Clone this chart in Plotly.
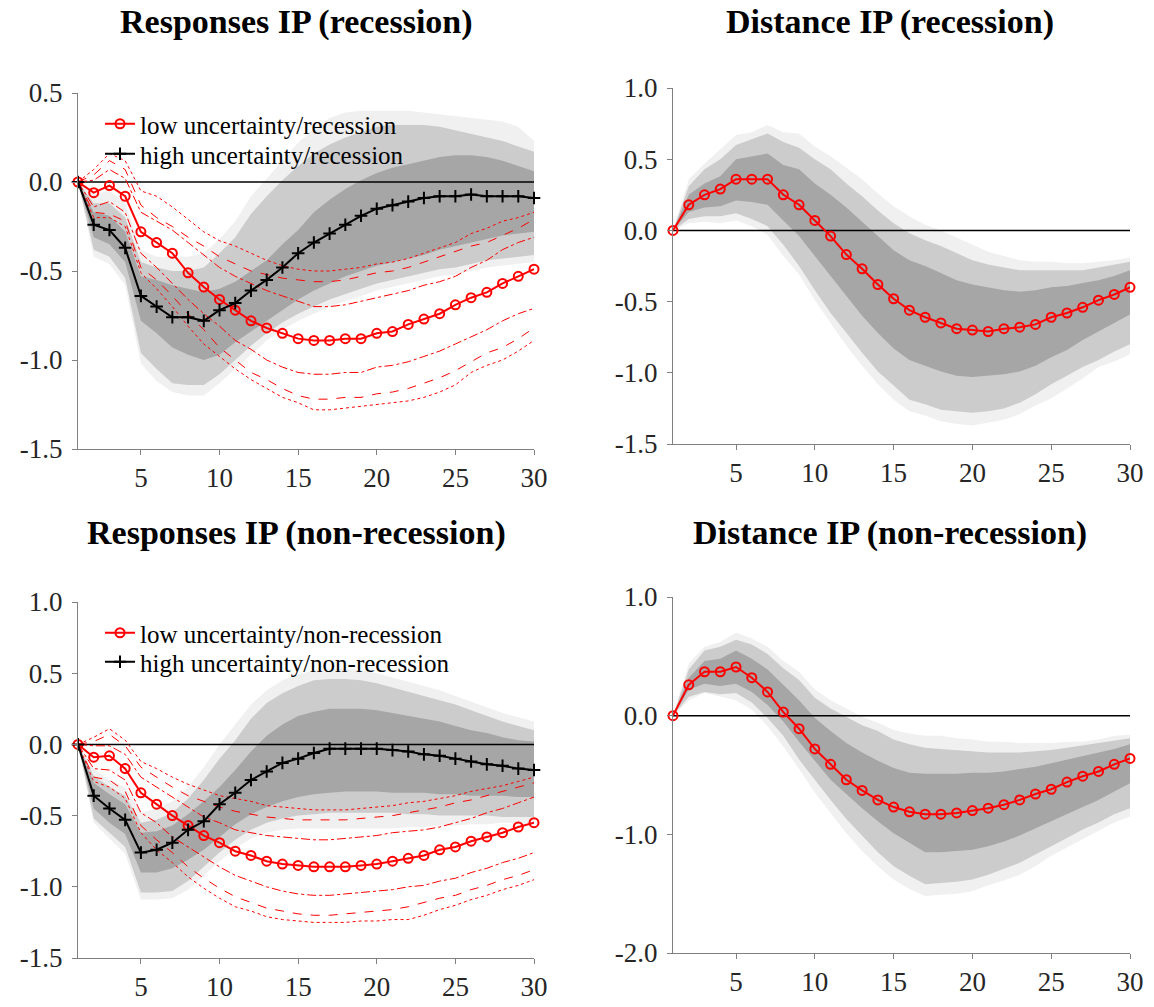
import plotly.graph_objects as go

# horizons
h = list(range(1, 31))

# ---------- Responses IP (recession) ----------
rec_low = [0, -0.06, -0.02, -0.08, -0.28, -0.34, -0.40, -0.51, -0.59, -0.66, -0.72, -0.78, -0.82, -0.85, -0.88,
           -0.89, -0.89, -0.88, -0.88, -0.85, -0.84, -0.80, -0.77, -0.74, -0.69, -0.65, -0.62, -0.57, -0.53, -0.49]
rec_high = [0, -0.24, -0.27, -0.37, -0.64, -0.70, -0.76, -0.76, -0.78, -0.72, -0.68, -0.61, -0.55, -0.48, -0.40,
            -0.34, -0.29, -0.24, -0.19, -0.15, -0.13, -0.11, -0.09, -0.08, -0.08, -0.07, -0.08, -0.08, -0.08, -0.09]
# red bands for low uncertainty (dotted = outer, dashed = middle, dash-dot = inner)
rec_low_dot_up = [0, 0.07, 0.16, 0.12, -0.05, -0.08, -0.14, -0.21, -0.28, -0.33, -0.36, -0.40, -0.44, -0.47, -0.49,
                  -0.50, -0.50, -0.49, -0.48, -0.46, -0.45, -0.43, -0.40, -0.37, -0.34, -0.29, -0.26, -0.22, -0.20, -0.17]
rec_low_dash_up = [0, 0.04, 0.12, 0.07, -0.13, -0.20, -0.25, -0.31, -0.36, -0.42, -0.46, -0.50, -0.52, -0.54, -0.55,
                   -0.56, -0.56, -0.55, -0.53, -0.51, -0.50, -0.48, -0.45, -0.42, -0.39, -0.36, -0.34, -0.30, -0.26, -0.21]
rec_low_dd_up = [0, 0.01, 0.07, 0.02, -0.17, -0.22, -0.27, -0.34, -0.41, -0.48, -0.53, -0.57, -0.61, -0.64, -0.67,
                 -0.70, -0.70, -0.69, -0.67, -0.65, -0.63, -0.61, -0.58, -0.56, -0.53, -0.48, -0.44, -0.38, -0.34, -0.31]
rec_low_dd_lo = [0, -0.14, -0.11, -0.17, -0.40, -0.48, -0.57, -0.66, -0.74, -0.81, -0.89, -0.94, -1.00, -1.04, -1.07,
                 -1.08, -1.08, -1.07, -1.07, -1.04, -1.03, -1.01, -0.98, -0.95, -0.91, -0.87, -0.83, -0.78, -0.74, -0.71]
rec_low_dash_lo = [0, -0.17, -0.18, -0.22, -0.48, -0.55, -0.64, -0.74, -0.83, -0.93, -1.00, -1.07, -1.11, -1.16, -1.20,
                   -1.22, -1.22, -1.21, -1.21, -1.19, -1.18, -1.16, -1.13, -1.10, -1.06, -1.01, -0.96, -0.93, -0.88, -0.82]
rec_low_dot_lo = [0, -0.20, -0.20, -0.25, -0.51, -0.60, -0.70, -0.81, -0.91, -0.98, -1.05, -1.11, -1.16, -1.21, -1.24,
                  -1.28, -1.28, -1.27, -1.26, -1.25, -1.24, -1.23, -1.21, -1.18, -1.14, -1.07, -1.03, -1.00, -0.95, -0.89]
# grey bands for high uncertainty
rec_high_b3_up = [0, -0.07, -0.05, -0.12, -0.38, -0.42, -0.42, -0.42, -0.40, -0.32, -0.22, -0.08, 0.02, 0.12, 0.22,
                  0.30, 0.36, 0.39, 0.40, 0.40, 0.40, 0.40, 0.39, 0.38, 0.37, 0.36, 0.35, 0.34, 0.31, 0.23]
rec_high_b2_up = [0, -0.12, -0.12, -0.20, -0.45, -0.48, -0.50, -0.50, -0.48, -0.40, -0.31, -0.18, -0.08, 0.01, 0.09,
                  0.16, 0.21, 0.25, 0.28, 0.31, 0.32, 0.32, 0.32, 0.31, 0.29, 0.27, 0.25, 0.23, 0.20, 0.17]
rec_high_b1_up = [0, -0.17, -0.19, -0.28, -0.53, -0.55, -0.58, -0.60, -0.62, -0.60, -0.56, -0.50, -0.44, -0.35, -0.27,
                  -0.17, -0.10, -0.04, 0.01, 0.05, 0.08, 0.10, 0.12, 0.14, 0.15, 0.15, 0.14, 0.12, 0.09, 0.06]
rec_high_b1_lo = [0, -0.31, -0.35, -0.45, -0.78, -0.85, -0.93, -0.97, -1.00, -0.97, -0.90, -0.84, -0.78, -0.72, -0.66,
                  -0.61, -0.57, -0.53, -0.50, -0.47, -0.45, -0.43, -0.41, -0.38, -0.36, -0.34, -0.32, -0.30, -0.29, -0.28]
rec_high_b2_lo = [0, -0.38, -0.42, -0.54, -0.96, -1.05, -1.13, -1.14, -1.14, -1.08, -1.00, -0.92, -0.85, -0.79, -0.74,
                  -0.70, -0.66, -0.63, -0.60, -0.57, -0.55, -0.53, -0.51, -0.49, -0.48, -0.46, -0.44, -0.43, -0.42, -0.41]
rec_high_b3_lo = [0, -0.42, -0.46, -0.58, -1.02, -1.12, -1.18, -1.20, -1.20, -1.13, -1.05, -0.97, -0.89, -0.83, -0.78,
                  -0.74, -0.70, -0.67, -0.64, -0.61, -0.59, -0.57, -0.55, -0.53, -0.52, -0.50, -0.48, -0.47, -0.46, -0.45]

# ---------- Distance IP (recession) ----------
rec_dist = [0, 0.18, 0.25, 0.29, 0.36, 0.36, 0.36, 0.25, 0.18, 0.07, -0.04, -0.17, -0.27, -0.38, -0.48,
            -0.56, -0.61, -0.65, -0.69, -0.70, -0.71, -0.69, -0.68, -0.66, -0.61, -0.58, -0.54, -0.49, -0.45, -0.40]
rec_dist_b3_up = [0, 0.36, 0.47, 0.57, 0.67, 0.69, 0.74, 0.69, 0.68, 0.59, 0.52, 0.44, 0.36, 0.26, 0.17,
                  0.10, 0.04, 0.00, -0.05, -0.10, -0.15, -0.18, -0.21, -0.22, -0.22, -0.23, -0.23, -0.22, -0.21, -0.19]
rec_dist_b2_up = [0, 0.31, 0.43, 0.50, 0.60, 0.64, 0.68, 0.62, 0.58, 0.50, 0.43, 0.33, 0.24, 0.14, 0.05,
                  -0.02, -0.07, -0.11, -0.16, -0.21, -0.24, -0.26, -0.28, -0.28, -0.28, -0.28, -0.28, -0.26, -0.24, -0.22]
rec_dist_b1_up = [0, 0.25, 0.33, 0.38, 0.50, 0.52, 0.54, 0.46, 0.43, 0.33, 0.25, 0.16, 0.06, -0.04, -0.14,
                  -0.21, -0.25, -0.30, -0.35, -0.38, -0.40, -0.42, -0.43, -0.42, -0.40, -0.39, -0.37, -0.35, -0.32, -0.28]
rec_dist_b1_lo = [0, 0.13, 0.16, 0.17, 0.21, 0.20, 0.18, 0.07, -0.04, -0.18, -0.32, -0.46, -0.60, -0.72, -0.83,
                  -0.91, -0.95, -0.99, -1.02, -1.03, -1.02, -1.01, -0.99, -0.95, -0.89, -0.84, -0.77, -0.71, -0.65, -0.59]
rec_dist_b2_lo = [0, 0.08, 0.10, 0.10, 0.12, 0.08, 0.03, -0.10, -0.25, -0.42, -0.58, -0.72, -0.86, -0.99, -1.09,
                  -1.19, -1.22, -1.26, -1.27, -1.28, -1.27, -1.25, -1.21, -1.15, -1.08, -1.02, -0.96, -0.91, -0.85, -0.80]
rec_dist_b3_lo = [0, 0.05, 0.06, 0.05, 0.07, 0.03, -0.03, -0.18, -0.31, -0.49, -0.65, -0.81, -0.95, -1.08, -1.19,
                  -1.27, -1.30, -1.34, -1.36, -1.37, -1.35, -1.33, -1.29, -1.23, -1.18, -1.11, -1.04, -0.96, -0.92, -0.87]

# ---------- Responses IP (non-recession) ----------
nrec_low = [0, -0.09, -0.08, -0.17, -0.34, -0.42, -0.50, -0.57, -0.64, -0.69, -0.75, -0.78, -0.82, -0.84, -0.85,
            -0.86, -0.86, -0.86, -0.85, -0.84, -0.82, -0.80, -0.78, -0.74, -0.72, -0.68, -0.65, -0.62, -0.58, -0.55]
nrec_high = [0, -0.36, -0.45, -0.53, -0.76, -0.74, -0.69, -0.60, -0.54, -0.42, -0.34, -0.25, -0.19, -0.13, -0.10,
             -0.06, -0.03, -0.03, -0.03, -0.03, -0.04, -0.05, -0.07, -0.08, -0.10, -0.12, -0.14, -0.15, -0.17, -0.18]
nrec_low_dot_up = [0, 0.05, 0.11, 0.03, -0.12, -0.17, -0.23, -0.28, -0.32, -0.36, -0.38, -0.40, -0.43, -0.44, -0.45,
                   -0.46, -0.46, -0.46, -0.45, -0.44, -0.43, -0.41, -0.40, -0.38, -0.36, -0.33, -0.31, -0.29, -0.26, -0.23]
nrec_low_dash_up = [0, 0.02, 0.07, -0.01, -0.16, -0.23, -0.30, -0.36, -0.40, -0.44, -0.47, -0.49, -0.51, -0.52, -0.53,
                    -0.53, -0.53, -0.53, -0.52, -0.51, -0.50, -0.48, -0.46, -0.44, -0.41, -0.39, -0.36, -0.33, -0.30, -0.27]
nrec_low_dd_up = [0, -0.01, -0.01, -0.07, -0.23, -0.30, -0.37, -0.44, -0.51, -0.55, -0.60, -0.62, -0.64, -0.65, -0.66,
                  -0.67, -0.67, -0.66, -0.65, -0.64, -0.62, -0.61, -0.60, -0.58, -0.55, -0.52, -0.48, -0.45, -0.41, -0.37]
nrec_low_dd_lo = [0, -0.17, -0.18, -0.25, -0.48, -0.55, -0.65, -0.72, -0.79, -0.86, -0.92, -0.96, -1.00, -1.03, -1.05,
                  -1.06, -1.06, -1.05, -1.04, -1.03, -1.02, -1.00, -0.99, -0.96, -0.94, -0.90, -0.87, -0.83, -0.80, -0.76]
nrec_low_dash_lo = [0, -0.23, -0.25, -0.33, -0.57, -0.67, -0.76, -0.86, -0.94, -1.01, -1.07, -1.11, -1.15, -1.17, -1.19,
                    -1.20, -1.20, -1.19, -1.18, -1.17, -1.16, -1.14, -1.11, -1.08, -1.06, -1.02, -0.99, -0.95, -0.92, -0.88]
nrec_low_dot_lo = [0, -0.26, -0.30, -0.38, -0.62, -0.74, -0.83, -0.93, -1.01, -1.08, -1.14, -1.17, -1.21, -1.23, -1.24,
                   -1.25, -1.25, -1.25, -1.24, -1.24, -1.23, -1.23, -1.20, -1.16, -1.13, -1.09, -1.06, -1.02, -0.99, -0.95]
nrec_high_b3_up = [0, -0.17, -0.25, -0.30, -0.48, -0.45, -0.40, -0.30, -0.16, 0.00, 0.14, 0.28, 0.38, 0.45, 0.49,
                   0.52, 0.53, 0.53, 0.52, 0.50, 0.47, 0.44, 0.41, 0.38, 0.34, 0.30, 0.26, 0.22, 0.19, 0.16]
nrec_high_b2_up = [0, -0.22, -0.30, -0.36, -0.55, -0.53, -0.48, -0.38, -0.25, -0.10, 0.03, 0.18, 0.29, 0.36, 0.41,
                   0.45, 0.46, 0.46, 0.45, 0.43, 0.40, 0.37, 0.34, 0.31, 0.28, 0.24, 0.20, 0.16, 0.13, 0.10]
nrec_high_b1_up = [0, -0.27, -0.35, -0.42, -0.62, -0.61, -0.57, -0.49, -0.40, -0.30, -0.18, -0.05, 0.06, 0.14, 0.20,
                   0.23, 0.25, 0.25, 0.25, 0.24, 0.22, 0.20, 0.18, 0.16, 0.13, 0.10, 0.08, 0.05, 0.03, 0.02]
nrec_high_b1_lo = [0, -0.45, -0.55, -0.63, -0.90, -0.90, -0.87, -0.81, -0.74, -0.65, -0.56, -0.49, -0.44, -0.40, -0.37,
                   -0.35, -0.34, -0.33, -0.33, -0.33, -0.34, -0.34, -0.34, -0.35, -0.35, -0.36, -0.36, -0.36, -0.37, -0.37]
nrec_high_b2_lo = [0, -0.52, -0.62, -0.72, -1.04, -1.04, -1.03, -0.96, -0.86, -0.76, -0.67, -0.60, -0.55, -0.52, -0.50,
                   -0.49, -0.48, -0.48, -0.48, -0.48, -0.48, -0.49, -0.49, -0.50, -0.50, -0.50, -0.50, -0.51, -0.51, -0.51]
nrec_high_b3_lo = [0, -0.55, -0.66, -0.77, -1.09, -1.09, -1.08, -1.02, -0.92, -0.82, -0.73, -0.66, -0.62, -0.60, -0.59,
                   -0.59, -0.59, -0.59, -0.59, -0.59, -0.59, -0.58, -0.58, -0.57, -0.57, -0.56, -0.56, -0.55, -0.55, -0.55]

# ---------- Distance IP (non-recession) ----------
nrec_dist = [0, 0.26, 0.37, 0.37, 0.41, 0.32, 0.20, 0.03, -0.11, -0.28, -0.41, -0.54, -0.63, -0.71, -0.77,
             -0.81, -0.83, -0.83, -0.82, -0.80, -0.78, -0.75, -0.71, -0.66, -0.62, -0.56, -0.51, -0.47, -0.41, -0.36]
nrec_dist_b3_up = [0, 0.44, 0.58, 0.62, 0.70, 0.65, 0.58, 0.46, 0.37, 0.22, 0.13, 0.06, -0.01, -0.06, -0.12,
                   -0.15, -0.17, -0.17, -0.19, -0.20, -0.22, -0.22, -0.23, -0.23, -0.23, -0.22, -0.22, -0.20, -0.17, -0.16]
nrec_dist_b2_up = [0, 0.39, 0.55, 0.58, 0.64, 0.60, 0.52, 0.40, 0.30, 0.15, 0.06, -0.01, -0.08, -0.13, -0.20,
                   -0.24, -0.27, -0.28, -0.29, -0.30, -0.31, -0.31, -0.31, -0.30, -0.29, -0.27, -0.25, -0.23, -0.21, -0.19]
nrec_dist_b1_up = [0, 0.32, 0.46, 0.48, 0.55, 0.48, 0.39, 0.26, 0.13, -0.02, -0.13, -0.23, -0.31, -0.38, -0.44,
                   -0.48, -0.49, -0.49, -0.49, -0.48, -0.48, -0.47, -0.45, -0.43, -0.40, -0.37, -0.34, -0.31, -0.28, -0.24]
nrec_dist_b1_lo = [0, 0.22, 0.27, 0.25, 0.27, 0.20, 0.09, -0.05, -0.22, -0.38, -0.54, -0.66, -0.78, -0.89, -0.99,
                   -1.07, -1.15, -1.15, -1.14, -1.13, -1.10, -1.06, -1.01, -0.95, -0.89, -0.83, -0.77, -0.71, -0.64, -0.57]
nrec_dist_b2_lo = [0, 0.16, 0.20, 0.18, 0.19, 0.11, -0.02, -0.17, -0.37, -0.54, -0.71, -0.87, -1.01, -1.15, -1.27,
                   -1.35, -1.42, -1.41, -1.40, -1.38, -1.34, -1.29, -1.24, -1.17, -1.10, -1.03, -0.96, -0.90, -0.83, -0.78]
nrec_dist_b3_lo = [0, 0.13, 0.19, 0.16, 0.13, 0.05, -0.09, -0.26, -0.45, -0.65, -0.82, -0.99, -1.14, -1.27, -1.38,
                   -1.46, -1.52, -1.51, -1.50, -1.48, -1.43, -1.39, -1.34, -1.27, -1.18, -1.11, -1.04, -0.97, -0.90, -0.85]

# tick labels
x_ticks = [5, 10, 15, 20, 25, 30]
y_ticks_tl = [0.5, 0.0, -0.5, -1.0, -1.5]
y_ticks_tr = [1.0, 0.5, 0.0, -0.5, -1.0, -1.5]
y_ticks_bl = [1.0, 0.5, 0.0, -0.5, -1.0, -1.5]
y_ticks_br = [1.0, 0.0, -1.0, -2.0]

GREY3, GREY2, GREY1 = "#f0f0f0", "#cccccc", "#a6a6a6"
SERIF = "Liberation Serif"
W, H = 1154, 1007

fig = go.Figure()


def band(ax, upper, lower, color):
    fig.add_trace(go.Scatter(
        x=h + h[::-1], y=upper + lower[::-1], fill="toself", fillcolor=color,
        line=dict(width=0), mode="lines", hoverinfo="skip", showlegend=False,
        xaxis="x" + ax, yaxis="y" + ax))


def line(ax, y, dash):
    fig.add_trace(go.Scatter(
        x=h, y=y, mode="lines", line=dict(color="red", width=1, dash=dash),
        showlegend=False, xaxis="x" + ax, yaxis="y" + ax))


def zero(ax):
    fig.add_trace(go.Scatter(
        x=h, y=[0] * len(h), mode="lines", line=dict(color="black", width=1.5),
        showlegend=False, hoverinfo="skip", xaxis="x" + ax, yaxis="y" + ax))


def low(ax, y, name=None, legend="legend"):
    fig.add_trace(go.Scatter(
        x=h, y=y, mode="lines+markers", name=name, showlegend=name is not None, legend=legend,
        line=dict(color="red", width=2),
        marker=dict(symbol="circle-open", size=9, color="red", line=dict(width=2)),
        cliponaxis=False, xaxis="x" + ax, yaxis="y" + ax))


def high(ax, y, name, legend):
    fig.add_trace(go.Scatter(
        x=h, y=y, mode="lines+markers", name=name, legend=legend,
        line=dict(color="black", width=2),
        marker=dict(symbol="cross-thin", size=9, color="black", line=dict(width=2, color="black")),
        cliponaxis=False, xaxis="x" + ax, yaxis="y" + ax))


# top-left
band("", rec_high_b3_up, rec_high_b3_lo, GREY3)
band("", rec_high_b2_up, rec_high_b2_lo, GREY2)
band("", rec_high_b1_up, rec_high_b1_lo, GREY1)
zero("")
for up, lo, d in [(rec_low_dot_up, rec_low_dot_lo, "dot"), (rec_low_dash_up, rec_low_dash_lo, "dash"),
                  (rec_low_dd_up, rec_low_dd_lo, "dashdot")]:
    line("", up, d)
    line("", lo, d)
low("", rec_low, "low uncertainty/recession", "legend")
high("", rec_high, "high uncertainty/recession", "legend3")

# top-right
band("2", rec_dist_b3_up, rec_dist_b3_lo, GREY3)
band("2", rec_dist_b2_up, rec_dist_b2_lo, GREY2)
band("2", rec_dist_b1_up, rec_dist_b1_lo, GREY1)
zero("2")
low("2", rec_dist)

# bottom-left
band("3", nrec_high_b3_up, nrec_high_b3_lo, GREY3)
band("3", nrec_high_b2_up, nrec_high_b2_lo, GREY2)
band("3", nrec_high_b1_up, nrec_high_b1_lo, GREY1)
zero("3")
for up, lo, d in [(nrec_low_dot_up, nrec_low_dot_lo, "dot"), (nrec_low_dash_up, nrec_low_dash_lo, "dash"),
                  (nrec_low_dd_up, nrec_low_dd_lo, "dashdot")]:
    line("3", up, d)
    line("3", lo, d)
low("3", nrec_low, "low uncertainty/non-recession", "legend2")
high("3", nrec_high, "high uncertainty/non-recession", "legend4")

# bottom-right
band("4", nrec_dist_b3_up, nrec_dist_b3_lo, GREY3)
band("4", nrec_dist_b2_up, nrec_dist_b2_lo, GREY2)
band("4", nrec_dist_b1_up, nrec_dist_b1_lo, GREY1)
zero("4")
low("4", nrec_dist)


def px_dom(a, b, total):
    return [a / total, b / total]


def ydom(top, bottom):
    return [1 - bottom / H, 1 - top / H]


axis_style = dict(showline=True, linecolor="#808080", linewidth=1, ticks="outside", ticklen=5,
                  tickcolor="#808080", showgrid=False, zeroline=False, automargin=False,
                  tickfont=dict(family=SERIF, size=27, color="#262626"))


def xaxis(dom, anchor):
    return dict(domain=dom, anchor=anchor, range=[1, 30], tickvals=x_ticks,
                ticktext=[str(t) for t in x_ticks], ticklabelstandoff=0, **axis_style)


def yaxis(dom, anchor, rng, ticks):
    return dict(domain=dom, anchor=anchor, range=rng, tickvals=ticks, ticklabelstandoff=4,
                ticktext=[f"{t:.1f}".replace("-0.0", "0.0") for t in ticks], **axis_style)


xl = px_dom(78, 534, W)
xr = px_dom(673, 1130, W)

titles = [("Responses IP (recession)", 296, 22), ("Distance IP (recession)", 890, 22),
          ("Responses IP (non-recession)", 296, 533), ("Distance IP (non-recession)", 890, 533)]

legend_style = dict(xanchor="left", yanchor="top", bgcolor="rgba(0,0,0,0)",
                    font=dict(family=SERIF, size=25, color="black"), tracegroupgap=0, itemwidth=30)

fig.update_layout(
    width=W, height=H, margin=dict(l=0, r=0, t=0, b=0),
    paper_bgcolor="white", plot_bgcolor="white",
    xaxis=xaxis(xl, "y"), yaxis=yaxis(ydom(93, 449), "x", [-1.5, 0.5], y_ticks_tl),
    xaxis2=xaxis(xr, "y2"), yaxis2=yaxis(ydom(88, 444), "x2", [-1.5, 1.0], y_ticks_tr),
    xaxis3=xaxis(xl, "y3"), yaxis3=yaxis(ydom(602, 958), "x3", [-1.5, 1.0], y_ticks_bl),
    xaxis4=xaxis(xr, "y4"), yaxis4=yaxis(ydom(597, 953), "x4", [-2.0, 1.0], y_ticks_br),
    legend=dict(x=100 / W, y=1 - 101 / H, **legend_style),
    legend3=dict(x=100 / W, y=1 - 131 / H, **legend_style),
    legend2=dict(x=100 / W, y=1 - 610 / H, **legend_style),
    legend4=dict(x=100 / W, y=1 - 639 / H, **legend_style),
    annotations=[dict(text=f"<b>{t}</b>", x=cx / W, y=1 - cy / H, xref="paper", yref="paper",
                      showarrow=False, xanchor="center", yanchor="middle",
                      font=dict(family=SERIF, size=34, color="black")) for t, cx, cy in titles],
)

fig.write_html("out.html", config={"displayModeBar": False},
               post_script="document.body.style.margin='0';")
